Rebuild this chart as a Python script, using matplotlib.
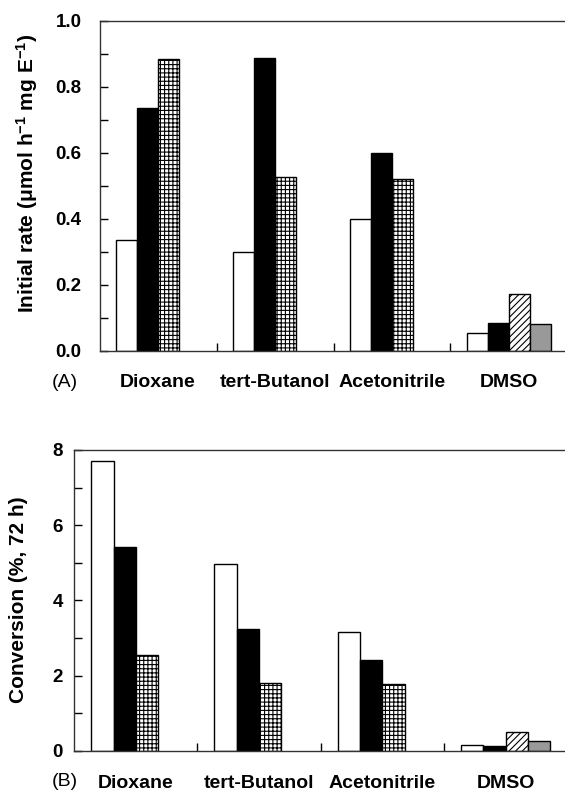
import numpy as np
import matplotlib
matplotlib.use("Agg")
import matplotlib.pyplot as plt

# solvents
solvents = ["Dioxane", "tert-Butanol", "Acetonitrile", "DMSO"]

# (A) initial rate, umol h-1 mg E-1
rate_white = [0.336, 0.300, 0.400, 0.053]
rate_black = [0.734, 0.886, 0.599, 0.085]
rate_grid = [0.885, 0.525, 0.520]      # first three solvents only
rate_hatch = [0.171]                   # DMSO only
rate_gray = [0.080]                    # DMSO only

# (B) conversion after 72 h, %
conv_white = [7.70, 4.98, 3.17, 0.17]
conv_black = [5.41, 3.24, 2.41, 0.12]
conv_grid = [2.55, 1.80, 1.77]
conv_hatch = [0.51]
conv_gray = [0.26]

plt.rcParams['font.family'] = ['Liberation Sans', 'DejaVu Sans']
plt.rcParams['font.weight'] = 'bold'
plt.rcParams['mathtext.fontset'] = 'custom'
plt.rcParams['mathtext.rm'] = 'Liberation Sans:bold'
plt.rcParams['mathtext.default'] = 'rm'
plt.rcParams['hatch.linewidth'] = 0.8

W = 0.181
x = np.arange(len(solvents))
offs = np.array([-1.5, -0.5, 0.5, 1.5]) * W


def draw_panel(ax, white, black, grid, hatch, gray):
    kw = dict(width=W, edgecolor='black', linewidth=1.0)
    ax.bar(x + offs[0], white, color='white', **kw)
    ax.bar(x + offs[1], black, color='black', **kw)
    ax.bar(x[:3] + offs[2], grid, color='white', hatch='++++', **kw)
    ax.bar(x[3:] + offs[2], hatch, color='white', hatch='/////', **kw)
    ax.bar(x[3:] + offs[3], gray, color='#999999', **kw)
    ax.set_xlim(-0.5, 3.5)
    ax.set_xticks(x, solvents, fontsize=14, fontweight='bold')
    ax.set_xticks(x[:-1] + 0.5, minor=True)
    ax.tick_params(axis='x', which='major', length=0, pad=17)
    ax.tick_params(axis='x', which='minor', direction='in', length=6, width=1)
    ax.tick_params(axis='y', which='both', direction='in', length=6, width=1,
                   labelsize=13.5)
    for s in ax.spines.values():
        s.set_linewidth(1.0)
        s.set_color('#333333')


fig = plt.figure(figsize=(5.65, 7.93), dpi=100)

ax1 = fig.add_axes([0.1763, 0.5578, 0.828, 0.4161])
draw_panel(ax1, rate_white, rate_black, rate_grid, rate_hatch, rate_gray)
ax1.set_ylim(0, 1.0)
ax1.set_yticks(np.arange(0, 1.01, 0.2))
ax1.set_yticks(np.arange(0.1, 1.0, 0.2), minor=True)
ax1.set_yticklabels([f"{v:.1f}" for v in np.arange(0, 1.01, 0.2)])
ax1.tick_params(axis='y', pad=13)

ax2 = fig.add_axes([0.1313, 0.053, 0.8726, 0.3796])
draw_panel(ax2, conv_white, conv_black, conv_grid, conv_hatch, conv_gray)
ax2.set_ylim(0, 8)
ax2.set_yticks([0, 2, 4, 6, 8])
ax2.set_yticks([1, 3, 5, 7], minor=True)
ax2.tick_params(axis='y', pad=8)

fig.text(27.5 / 565, 1 - 173.5 / 793, 'Initial rate (μmol h$^{-1}$ mg E$^{-1}$)',
         rotation=90, ha='center', va='center', fontsize=15, fontweight='bold')
fig.text(19 / 565, 1 - 600 / 793, 'Conversion (%, 72 h)',
         rotation=90, ha='center', va='center', fontsize=15, fontweight='bold')
fig.text(65 / 565, 1 - 382 / 793, '(A)', ha='center', va='center',
         fontsize=14, fontweight='normal')
fig.text(65 / 565, 1 - 782 / 793, '(B)', ha='center', va='center',
         fontsize=14, fontweight='normal')

fig.savefig("out.png", dpi=100)
